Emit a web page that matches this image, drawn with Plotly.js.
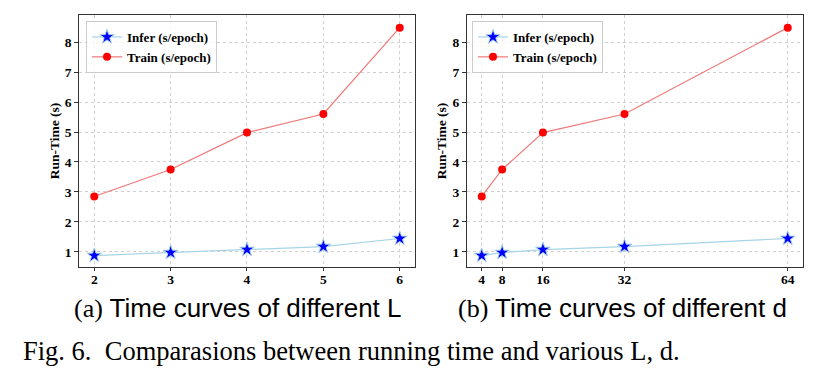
<!DOCTYPE html>
<html>
<head>
<meta charset="utf-8">
<script src="https://cdn.plot.ly/plotly-3.0.1.min.js"></script>
<style>html,body{margin:0;padding:0;background:#fff;}#chart{width:836px;height:374px;}</style>
</head>
<body>
<div id="chart"></div>
<script>
// Data
const layersL = [2, 3, 4, 5, 6];
const dimsD = [4, 8, 16, 32, 64];
const inferL = [0.88, 0.98, 1.08, 1.18, 1.45];
const trainL = [2.85, 3.75, 4.98, 5.60, 8.48];
const inferD = [0.88, 0.98, 1.08, 1.18, 1.45];
const trainD = [2.85, 3.75, 4.98, 5.60, 8.48];
const yTicks = [1, 2, 3, 4, 5, 6, 7, 8];
const seriesNames = ['Infer (s/epoch)', 'Train (s/epoch)'];
const subCaptions = ['Time curves of different L', 'Time curves of different d'];
const figCaption = 'Fig. 6.  Comparasions between running time and various L, d.';

const serif = 'Liberation Serif, Times New Roman, serif';
const sans = 'Liberation Sans, Arial, sans-serif';

function inferTrace(x, y, xa, ya, lg) {
  return {x: x, y: y, xaxis: xa, yaxis: ya, legend: lg, name: seriesNames[0], type: 'scatter', mode: 'lines+markers',
    line: {color: '#a6d4e6', width: 1.2},
    marker: {symbol: 'star', size: 11, color: '#0000ff', line: {color: '#a6d4e6', width: 1}}};
}
function trainTrace(x, y, xa, ya, lg) {
  return {x: x, y: y, xaxis: xa, yaxis: ya, legend: lg, name: seriesNames[1], type: 'scatter', mode: 'lines+markers',
    line: {color: '#f07878', width: 1.2},
    marker: {symbol: 'circle', size: 8, color: '#ff0000', line: {color: '#ff0000', width: 0}}};
}

const data = [
  inferTrace(layersL, inferL, 'x', 'y', 'legend'),
  trainTrace(layersL, trainL, 'x', 'y', 'legend'),
  inferTrace(dimsD, inferD, 'x2', 'y2', 'legend2'),
  trainTrace(dimsD, trainD, 'x2', 'y2', 'legend2')
];

const axFont = {family: serif, size: 13.5, color: '#000', weight: 'bold'};
function xAxis(domain, anchor, tickvals) {
  return {domain: domain, anchor: anchor, tickmode: 'array', tickvals: tickvals, ticktext: tickvals.map(String),
    showgrid: true, gridcolor: '#d0d0d0', griddash: 'dot', gridwidth: 1,
    showline: true, linecolor: '#333', linewidth: 1.2, mirror: true,
    ticks: 'outside', ticklen: 3.5, tickcolor: '#333', tickfont: axFont, zeroline: false,
    ticklabelstandoff: -4};
}
function yAxis(anchor) {
  return {domain: [0.287, 0.959], anchor: anchor, range: [0.51, 8.89], tickmode: 'array', tickvals: yTicks,
    showgrid: true, gridcolor: '#d0d0d0', griddash: 'dot', gridwidth: 1,
    showline: true, linecolor: '#333', linewidth: 1.2, mirror: true,
    ticks: 'outside', ticklen: 3.5, tickcolor: '#333', tickfont: axFont, zeroline: false,
    title: {text: 'Run-Time (s)', font: {family: serif, size: 13.5, color: '#000', weight: 'bold'}, standoff: 2}};
}
const legendCommon = {bgcolor: 'rgba(255,255,255,0.8)', bordercolor: '#cccccc', borderwidth: 1,
  font: {family: serif, size: 13, color: '#000', weight: 'bold'}, xanchor: 'left', yanchor: 'top',
  tracegroupgap: 0, itemwidth: 30};

const layout = {
  width: 836, height: 374,
  margin: {l: 0, r: 0, t: 0, b: 0},
  paper_bgcolor: '#fff', plot_bgcolor: '#fff',
  showlegend: true,
  xaxis: Object.assign(xAxis([0.0945, 0.4964], 'y', layersL), {range: [1.8, 6.2]}),
  yaxis: yAxis('x'),
  xaxis2: Object.assign(xAxis([0.5583, 0.9602], 'y2', dimsD), {range: [1.06, 66.94]}),
  yaxis2: yAxis('x2'),
  legend: Object.assign({x: 86/836, y: 1 - 21/374}, legendCommon),
  legend2: Object.assign({x: 472/836, y: 1 - 21/374}, legendCommon),
  annotations: [
    {xref: 'paper', yref: 'paper', x: 72/836, y: 1 - 308/374, xanchor: 'left', yanchor: 'middle', showarrow: false,
     text: '<span style="font-family:Liberation Serif">(a)</span> ' + subCaptions[0], font: {family: sans, size: 26, color: '#000'}},
    {xref: 'paper', yref: 'paper', x: 456/836, y: 1 - 308/374, xanchor: 'left', yanchor: 'middle', showarrow: false,
     text: '<span style="font-family:Liberation Serif">(b)</span> ' + subCaptions[1], font: {family: sans, size: 26, color: '#000'}},
    {xref: 'paper', yref: 'paper', x: 21/836, y: 1 - 351/374, xanchor: 'left', yanchor: 'middle', showarrow: false,
     text: figCaption.replace('  ', '&nbsp;&nbsp;'), font: {family: serif, size: 26.5, color: '#000'}}
  ]
};

Plotly.newPlot('chart', data, layout, {displayModeBar: false, staticPlot: true});
</script>
</body>
</html>
